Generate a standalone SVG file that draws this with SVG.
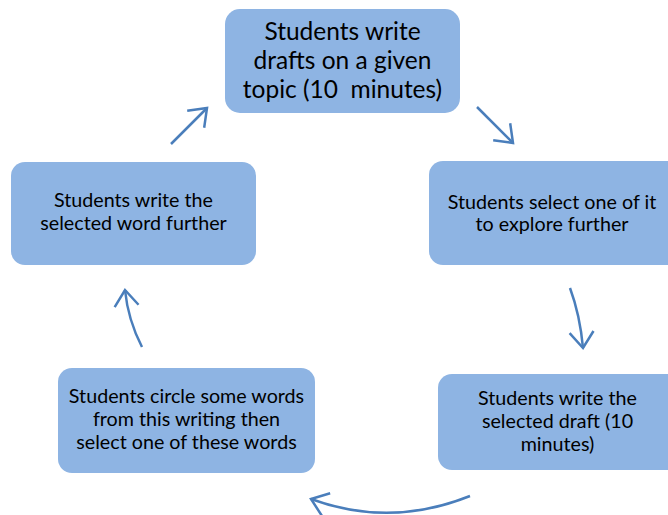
<svg xmlns="http://www.w3.org/2000/svg" width="668" height="515" viewBox="0 0 668 515">
<defs>
<style>
.box{fill:#8EB4E3;}
.t{font-family:Lato,"Liberation Sans",sans-serif;font-size:19.7px;fill:#000;text-anchor:middle;}
.tb{font-size:24.5px;}
.c{fill:none;stroke:#4A7EBB;stroke-width:2.5;}
</style>
<marker id="ah" markerUnits="userSpaceOnUse" viewBox="-20 -15 24 30" refX="0" refY="0" markerWidth="24" markerHeight="30" orient="auto">
<path d="M-16,-12 L0,0 L-16,12" fill="none" stroke="#4A7EBB" stroke-width="2.5"/>
</marker>
</defs>
<rect width="668" height="515" fill="#fff"/>
<g id="n1">
<rect class="box" x="225" y="9" width="235" height="104" rx="15"/>
<text class="t tb" x="342.5" y="40">Students write</text>
<text class="t tb" x="342.5" y="69">drafts on a given</text>
<text class="t tb" x="342.5" y="98">topic (10&#160; minutes)</text>
</g>
<g id="n2">
<rect class="box" x="429" y="161" width="255" height="104" rx="14"/>
<text class="t" x="552" y="209">Students select one of it</text>
<text class="t" x="552" y="231">to explore further</text>
</g>
<g id="n3">
<rect class="box" x="438" y="374" width="246" height="96" rx="14"/>
<text class="t" x="557.5" y="405">Students write the</text>
<text class="t" x="557.5" y="428">selected draft (10</text>
<text class="t" x="557.5" y="451">minutes)</text>
</g>
<g id="n4">
<rect class="box" x="58" y="368" width="257" height="105" rx="14"/>
<text class="t" x="186.5" y="403">Students circle some words</text>
<text class="t" x="186.5" y="426">from this writing then</text>
<text class="t" x="186.5" y="449">select one of these words</text>
</g>
<g id="n5">
<rect class="box" x="11" y="162" width="245" height="103" rx="14"/>
<text class="t" x="133.5" y="207">Students write the</text>
<text class="t" x="133.5" y="230">selected word further</text>
</g>
<g id="connectors">
<path class="c" d="M477,107 L513,143" marker-end="url(#ah)"/>
<path class="c" d="M570,288 Q580,315 583,348" marker-end="url(#ah)"/>
<path class="c" d="M470,496 Q390,528 311,499" marker-end="url(#ah)"/>
<path class="c" d="M142,347 Q128,320 125,290" marker-end="url(#ah)"/>
<path class="c" d="M171,144 L207,108" marker-end="url(#ah)"/>
</g>
</svg>
